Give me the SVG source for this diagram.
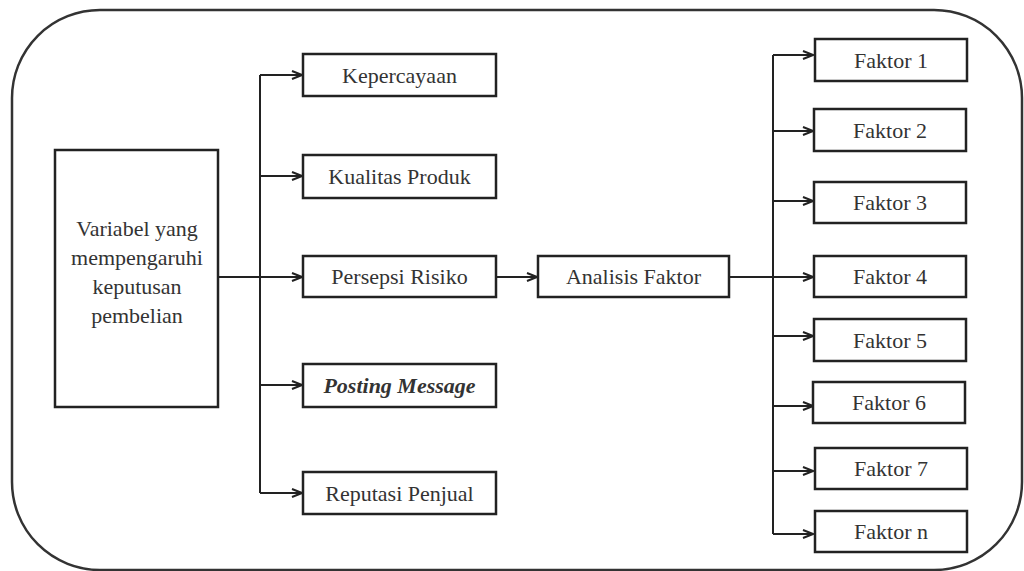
<svg xmlns="http://www.w3.org/2000/svg" width="1024" height="571" viewBox="0 0 1024 571">
<style>
.box{fill:#fff;stroke:#222;stroke-width:2.5}
.frame{fill:#fff;stroke:#333;stroke-width:2.5}
.t{font-family:"Liberation Serif","DejaVu Serif",serif;font-size:22px;fill:#333;text-anchor:middle;dominant-baseline:central}
.it{font-style:italic;font-weight:bold}
.c{fill:none;stroke:#222;stroke-width:2}
</style>
<defs>
<marker id="ah" viewBox="0 0 12 10" refX="11" refY="5" markerWidth="12" markerHeight="10" markerUnits="userSpaceOnUse" orient="auto">
<path d="M1,1 L11,5 L1,9" fill="none" stroke="#222" stroke-width="2"/>
</marker>
</defs>
<rect class="frame" x="12" y="10" width="1010" height="560" rx="88" ry="88"/>
<g id="connectors">
<path class="c" d="M218,277 H302" marker-end="url(#ah)"/>
<path class="c" d="M260,75 V493"/>
<path class="c" d="M260,75 H302" marker-end="url(#ah)"/>
<path class="c" d="M260,176 H302" marker-end="url(#ah)"/>
<path class="c" d="M260,385 H302" marker-end="url(#ah)"/>
<path class="c" d="M260,493 H302" marker-end="url(#ah)"/>
<path class="c" d="M496,277 H537" marker-end="url(#ah)"/>
<path class="c" d="M729,277 H813" marker-end="url(#ah)"/>
<path class="c" d="M773,55 V534"/>
<path class="c" d="M773,55 H813" marker-end="url(#ah)"/>
<path class="c" d="M773,131 H813" marker-end="url(#ah)"/>
<path class="c" d="M773,201 H813" marker-end="url(#ah)"/>
<path class="c" d="M773,336 H813" marker-end="url(#ah)"/>
<path class="c" d="M773,406 H813" marker-end="url(#ah)"/>
<path class="c" d="M773,471 H813" marker-end="url(#ah)"/>
<path class="c" d="M773,534 H813" marker-end="url(#ah)"/>
</g>
<g id="variabel">
<rect class="box" x="55" y="150" width="163" height="257"/>
<text class="t" x="137" y="228">Variabel yang</text>
<text class="t" x="137" y="257">mempengaruhi</text>
<text class="t" x="137" y="286">keputusan</text>
<text class="t" x="137" y="315">pembelian</text>
</g>
<g id="kepercayaan"><rect class="box" x="303" y="54" width="193" height="42"/><text class="t" x="399.5" y="75">Kepercayaan</text></g>
<g id="kualitas"><rect class="box" x="303" y="155" width="193" height="43"/><text class="t" x="399.5" y="176.5">Kualitas Produk</text></g>
<g id="persepsi"><rect class="box" x="303" y="256" width="193" height="41"/><text class="t" x="399.5" y="276.5">Persepsi Risiko</text></g>
<g id="posting"><rect class="box" x="303" y="364" width="193" height="43"/><text class="t it" x="399.5" y="385.5">Posting Message</text></g>
<g id="reputasi"><rect class="box" x="303" y="472" width="193" height="42"/><text class="t" x="399.5" y="493">Reputasi Penjual</text></g>
<g id="analisis"><rect class="box" x="538" y="256" width="191" height="41"/><text class="t" x="633.5" y="276.5">Analisis Faktor</text></g>
<g id="f1"><rect class="box" x="815" y="39" width="152" height="42"/><text class="t" x="891" y="60">Faktor 1</text></g>
<g id="f2"><rect class="box" x="814" y="109" width="152" height="42"/><text class="t" x="890" y="130">Faktor 2</text></g>
<g id="f3"><rect class="box" x="814" y="182" width="152" height="41"/><text class="t" x="890" y="202.5">Faktor 3</text></g>
<g id="f4"><rect class="box" x="814" y="256" width="152" height="41"/><text class="t" x="890" y="276.5">Faktor 4</text></g>
<g id="f5"><rect class="box" x="814" y="319" width="152" height="42"/><text class="t" x="890" y="340">Faktor 5</text></g>
<g id="f6"><rect class="box" x="813" y="382" width="152" height="41"/><text class="t" x="889" y="402.5">Faktor 6</text></g>
<g id="f7"><rect class="box" x="815" y="448" width="152" height="41"/><text class="t" x="891" y="468.5">Faktor 7</text></g>
<g id="fn"><rect class="box" x="815" y="511" width="152" height="41"/><text class="t" x="891" y="531.5">Faktor n</text></g>
</svg>
